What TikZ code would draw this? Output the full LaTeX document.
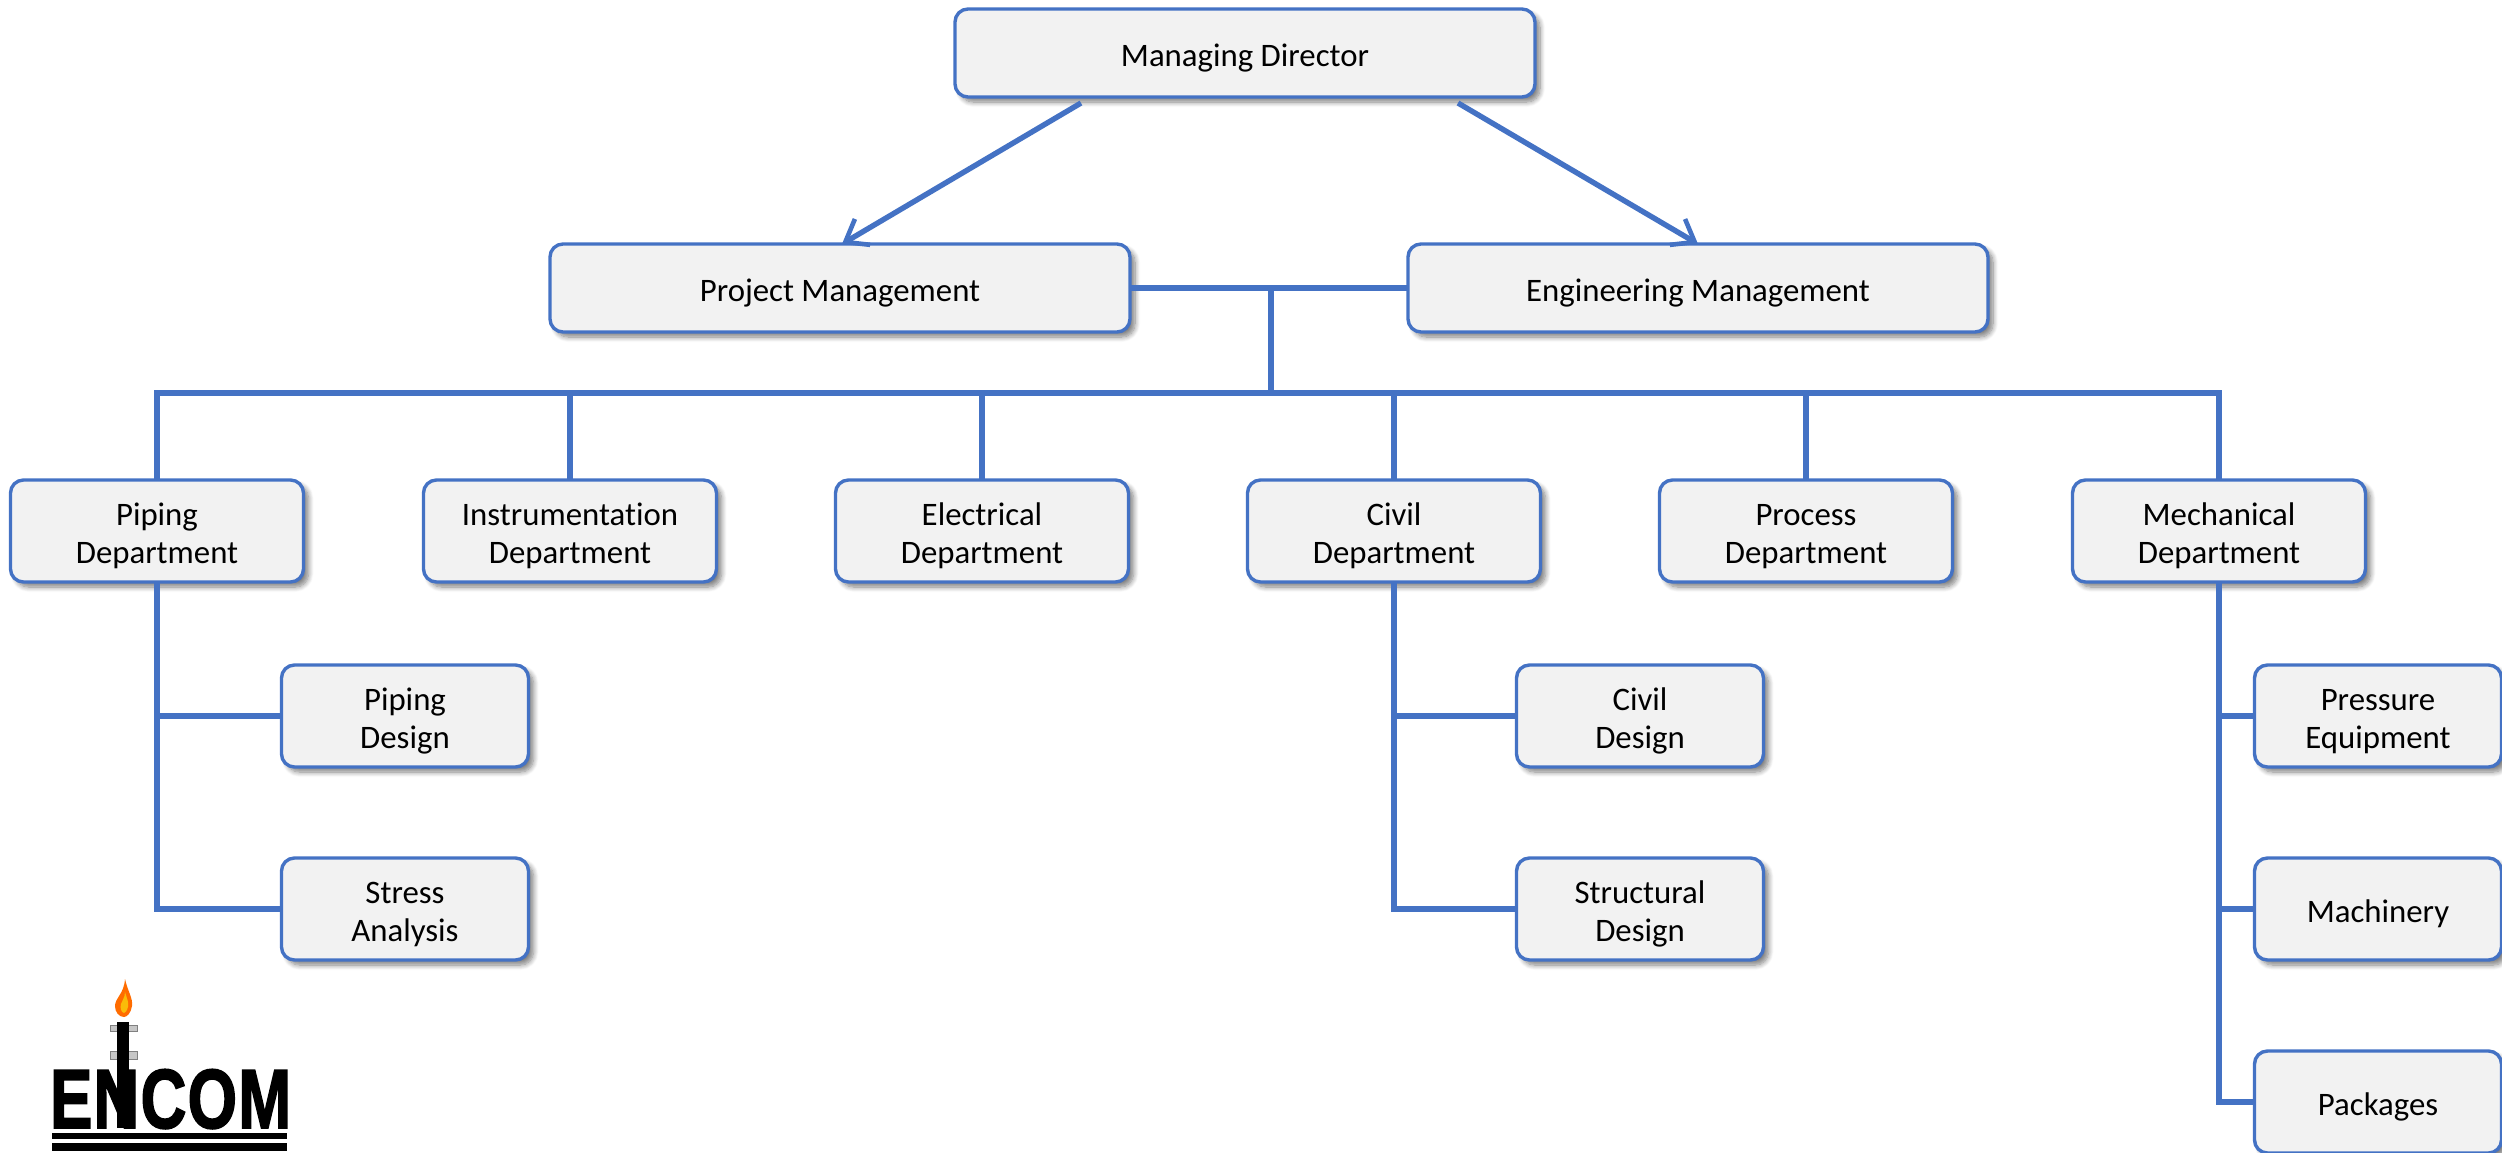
\documentclass[tikz,border=0pt]{standalone}
\usepackage{fontspec}
\setmainfont{Carlito}[Ligatures=CommonOff]
\newfontfamily\logofont[FakeBold=2.2,LetterSpace=2]{Liberation Sans Bold}
\usetikzlibrary{shadows.blur,arrows.meta,calc}
\definecolor{linkblue}{HTML}{4472C4}
\definecolor{boxfill}{HTML}{F2F2F2}
\tikzset{
  x=0.5pt,y=-0.5pt,
  box/.style={draw=linkblue,fill=boxfill,line width=1.7pt,rounded corners=6.5pt,
    inner sep=0pt,outer sep=0pt,align=center,text=black,
    font=\fontsize{16.4}{19}\selectfont,
    execute at end node={\rule[-5pt]{0pt}{5pt}},
    blur shadow={shadow xshift=2.5pt,shadow yshift=-2.5pt,shadow blur steps=8,shadow blur radius=2.5pt,shadow opacity=50}},
  oneline/.style={execute at begin node={\rule{0pt}{18pt}}},
  twoline/.style={execute at begin node={\rule{0pt}{37pt}}},
  topbox/.style={box,oneline,minimum width=290pt,minimum height=44pt},
  dept/.style={box,twoline,minimum width=146.5pt,minimum height=51pt},
  subbox/.style={box,minimum width=123.5pt,minimum height=51pt},
  link/.style={draw=linkblue,line width=2.7pt},
  arrowlink/.style={link,-{Straight Barb[length=10pt,width=15pt,line width=2.3pt]}},
}
\begin{document}
\begin{tikzpicture}
\useasboundingbox (0,0) rectangle (2502,1152);
\node[topbox] (md) at (1245,53) {Managing Director};
\node[topbox] (pm) at (840,288) {Project Management};
\node[topbox] (em) at (1698,288) {Engineering Management};
\node[dept] (piping) at (157,531) {Piping\\Department};
\node[dept] (instr) at (570,531) {Instrumentation\\Department};
\node[dept] (elec) at (982,531) {Electrical\\Department};
\node[dept] (civil) at (1394,531) {Civil\\Department};
\node[dept] (proc) at (1806,531) {Process\\Department};
\node[dept] (mech) at (2219,531) {Mechanical\\Department};
\node[subbox,twoline] (pdes) at (405,716) {Piping\\Design};
\node[subbox,twoline] (stress) at (405,909) {Stress\\Analysis};
\node[subbox,twoline] (cdes) at (1640,716) {Civil\\Design};
\node[subbox,twoline] (sdes) at (1640,909) {Structural\\Design};
\node[subbox,twoline] (press) at (2378,716) {Pressure\\Equipment};
\node[subbox,oneline] (mach) at (2378,909) {Machinery};
\node[subbox,oneline] (pack) at (2378,1102) {Packages};
% connector coordinates
\coordinate (mdl) at (1081,103);
\coordinate (mdr) at (1458,103);
\coordinate (pmt) at (842,244);
\coordinate (emt) at (1698,244);
\coordinate (tee) at (1271,288);
\coordinate (busy) at (1271,393);
\draw[arrowlink] (mdl) -- (pmt);
\draw[arrowlink] (mdr) -- (emt);
\draw[link] (pm.east) -- (em.west);
\draw[link] (tee) -- (busy);
\draw[link,line cap=rect] (piping.north |- busy) -- (mech.north |- busy);
\foreach \n in {piping,instr,elec,civil,proc,mech}{
  \draw[link] (\n.north) -- (\n.north |- busy);
}
\draw[link] (piping.south) |- (stress.west);
\draw[link] (piping.south |- pdes.west) -- (pdes.west);
\draw[link] (civil.south) |- (sdes.west);
\draw[link] (civil.south |- cdes.west) -- (cdes.west);
\draw[link] (mech.south) |- (pack.west);
\draw[link] (mech.south |- press.west) -- (press.west);
\draw[link] (mech.south |- mach.west) -- (mach.west);
% logo
\node[inner sep=0pt,outer sep=0pt,anchor=base west,xscale=0.755,font=\fontsize{42}{42}\logofont] (logotext) at (50,1128) {ENCOM};
\foreach \yy/\hh in {1028/6,1055/8}{
  \fill[gray!45,draw=gray,line width=0.3pt] (110,\yy-\hh/2) rectangle (137,\yy+\hh/2);
}
\fill[black] (117,1022) rectangle (129,1128);
\fill[black] (52,1133) rectangle (287,1139);
\fill[black] (52,1143) rectangle (287,1151);
\fill[orange!85!red] (125,979) .. controls (128,992) and (133,998) .. (132,1006)
  .. controls (131,1013) and (127,1017) .. (124,1017)
  .. controls (119,1017) and (115,1012) .. (115,1006)
  .. controls (115,998) and (124,994) .. (125,979) -- cycle;
\fill[yellow!50!orange] (125,992) .. controls (127,999) and (129,1002) .. (128,1007)
  .. controls (127,1011) and (125,1013) .. (124,1013)
  .. controls (121,1012) and (120,1008) .. (121,1004)
  .. controls (122,1000) and (125,998) .. (125,992) -- cycle;
\end{tikzpicture}
\end{document}
